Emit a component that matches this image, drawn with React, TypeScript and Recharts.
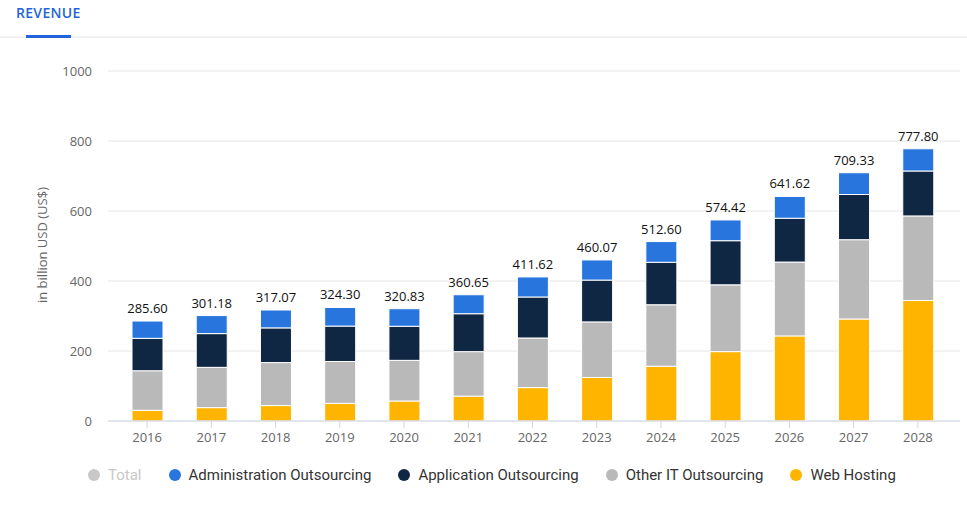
import React from 'react';
import { BarChart, Bar, XAxis, YAxis, CartesianGrid, LabelList } from 'recharts';

const years = ['2016', '2017', '2018', '2019', '2020', '2021', '2022', '2023', '2024', '2025', '2026', '2027', '2028'];
const totals = [285.6, 301.18, 317.07, 324.3, 320.83, 360.65, 411.62, 460.07, 512.6, 574.42, 641.62, 709.33, 777.8];
const webHosting = [30.6, 38.2, 44.1, 50.3, 57.2, 71.0, 95.4, 124.3, 156.5, 198.2, 243.1, 291.4, 344.2];
const otherIT = [113.0, 115.1, 122.8, 119.7, 116.1, 127.2, 141.8, 158.9, 175.6, 190.8, 211.0, 226.6, 241.7];
const appOutsourcing = [92.6, 96.4, 99.1, 101.2, 97.3, 108.3, 117.1, 119.4, 121.3, 126.1, 125.2, 129.1, 128.4];
const adminOutsourcing = [49.4, 51.5, 51.1, 53.1, 50.2, 54.2, 57.3, 57.5, 59.2, 59.3, 62.3, 62.2, 63.5];
const yTicks = [0, 200, 400, 600, 800, 1000];

const legendItems = [
  { name: 'Total', color: '#c8c8c8', muted: true },
  { name: 'Administration Outsourcing', color: '#2876dd' },
  { name: 'Application Outsourcing', color: '#0f2742' },
  { name: 'Other IT Outsourcing', color: '#b9b9b9' },
  { name: 'Web Hosting', color: '#ffb400' },
];

const data = years.map((year, i) => ({
  year,
  total: totals[i],
  web: webHosting[i],
  other: otherIT[i],
  app: appOutsourcing[i],
  admin: adminOutsourcing[i],
}));

const font = '"Open Sans", Roboto, sans-serif';

const TotalLabel = (props: any) => {
  const { x, y, width, value } = props;
  return (
    <text
      x={Number(x) + Number(width) / 2}
      y={Number(y) - 13}
      textAnchor="middle"
      dominantBaseline="central"
      fontSize={13}
      fontWeight={500}
      fill="#111"
      fontFamily={font}
    >
      {Number(value).toFixed(2)}
    </text>
  );
};

const App: React.FC = () => {
  return (
    <div
      style={{
        position: 'fixed',
        top: 0,
        left: 0,
        width: 967,
        height: 515,
        background: '#fff',
        fontFamily: font,
        overflow: 'hidden',
      }}
    >
      {/* tab header */}
      <div style={{ position: 'absolute', left: 16, top: 3, fontSize: 14, fontWeight: 600, color: '#1f64d8', letterSpacing: 0.3 }}>
        REVENUE
      </div>
      <div style={{ position: 'absolute', left: 0, top: 36, width: 967, height: 2, background: '#f0f2f5' }} />
      <div style={{ position: 'absolute', left: 26, top: 35, width: 45, height: 3, background: '#1f64d8' }} />

      {/* y axis title */}
      <div
        style={{
          position: 'absolute',
          left: 42,
          top: 245,
          transform: 'translate(-50%, -50%) rotate(-90deg)',
          whiteSpace: 'nowrap',
          fontSize: 13,
          color: '#666',
        }}
      >
        in billion USD (US$)
      </div>

      <div style={{ position: 'absolute', left: 0, top: 0 }}>
        <BarChart
          width={967}
          height={515}
          data={data}
          margin={{ top: 71, right: 7, left: 48, bottom: 64 }}
          barSize={31}
        >
          <CartesianGrid vertical={false} stroke="#e6e6e6" />
          <XAxis
            dataKey="year"
            padding={{ left: 7, right: 10 }}
            height={30}
            axisLine={{ stroke: '#ccd6eb' }}
            tickLine={{ stroke: '#ccd6eb' }}
            tickSize={7}
            tickMargin={5}
            tick={{ fontSize: 13, fill: '#666', fontFamily: font }}
            interval={0}
          />
          <YAxis
            width={60}
            domain={[0, 1000]}
            ticks={yTicks}
            axisLine={false}
            tickLine={false}
            tickMargin={10}
            tick={{ fontSize: 13, fill: '#666', fontFamily: font }}
          />
          <Bar dataKey="web" stackId="a" fill="#ffb400" stroke="#fff" strokeWidth={1} isAnimationActive={false} />
          <Bar dataKey="other" stackId="a" fill="#b9b9b9" stroke="#fff" strokeWidth={1} isAnimationActive={false} />
          <Bar dataKey="app" stackId="a" fill="#0f2742" stroke="#fff" strokeWidth={1} isAnimationActive={false} />
          <Bar dataKey="admin" stackId="a" fill="#2876dd" stroke="#fff" strokeWidth={1} isAnimationActive={false}>
            <LabelList dataKey="total" content={TotalLabel} />
          </Bar>
        </BarChart>
      </div>

      {/* legend */}
      <div
        style={{
          position: 'absolute',
          left: 88,
          top: 465,
          display: 'flex',
          alignItems: 'center',
          fontFamily: 'Roboto, sans-serif',
          fontSize: 15,
        }}
      >
        {legendItems.map((item) => (
          <div key={item.name} style={{ display: 'flex', alignItems: 'center', marginRight: 27 }}>
            <span
              style={{
                width: 12,
                height: 12,
                borderRadius: '50%',
                background: item.color,
                display: 'inline-block',
                marginRight: 8,
              }}
            />
            <span style={{ color: item.muted ? '#c8c8c8' : '#333', lineHeight: '20px' }}>{item.name}</span>
          </div>
        ))}
      </div>
    </div>
  );
};

export default App;
